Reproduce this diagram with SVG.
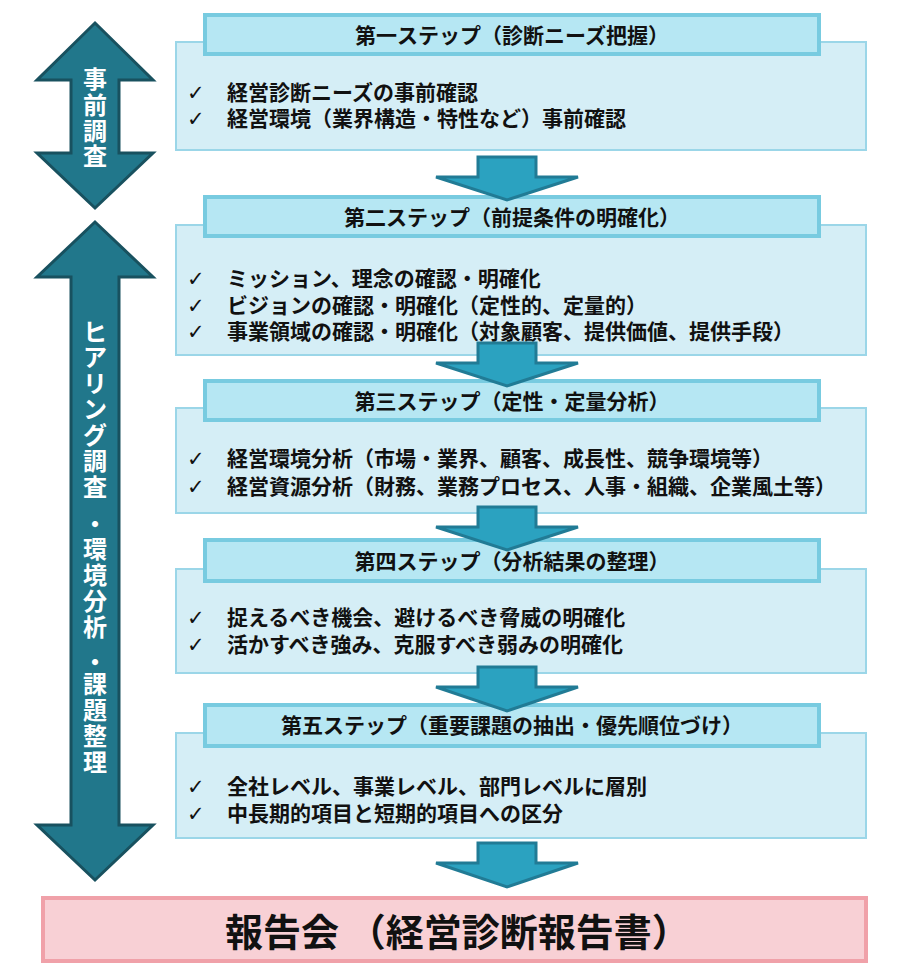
<svg xmlns="http://www.w3.org/2000/svg" width="900" height="970" viewBox="0 0 900 970">
<style>
text{font-family:"Noto Sans CJK JP","Noto Sans CJK SC",sans-serif;font-weight:bold;}
.content{fill:#d5eef6;stroke:#9bd6e8;stroke-width:2;}
.header{fill:#b6e7f3;stroke:#78cbe0;stroke-width:4;}
.htxt{font-size:21px;fill:#111;text-anchor:middle;}
.item{font-size:21px;fill:#111;}
.chk{font-size:21px;font-weight:normal;font-family:"DejaVu Sans",sans-serif;}
.flow{fill:#2ba2c0;stroke:#217b95;stroke-width:3;stroke-linejoin:miter;}
.phase{fill:#21778b;stroke:#18515f;stroke-width:3;}
.ptxt{font-size:24px;fill:#fff;text-anchor:middle;}
.report{fill:#f8d0d5;stroke:#f0a1a9;stroke-width:4;}
</style>
<rect width="900" height="970" fill="#fff"/>

<g id="phase-pre">
<polygon class="phase" points="95,23 153,80 119,80 119,153 153,153 95,208 37,153 71,153 71,80 37,80"/>
<text class="ptxt" x="95 95 95 95" y="88 114 140 165">事前調査</text>
</g>

<g id="phase-hearing">
<polygon class="phase" points="95,222 153,277 119,277 119,825 153,825 95,880 37,825 71,825 71,277 37,277"/>
<text class="ptxt" x="95 95 95 95 95 95 95 95 95 95 95 95 95 95 95 95 95" y="341 366 392 418 444 470 496 533 558 584 610 636 671 693 719 745 771">ヒアリング調査・環境分析・課題整理</text>
</g>

<g id="step1">
<rect class="content" x="176" y="42" width="690" height="108"/>
<rect class="header" x="205" y="15" width="614" height="39"/>
<text class="htxt" x="512" y="43">第一ステップ（診断ニーズ把握）</text>
<text class="item" y="100"><tspan class="chk" x="187">✓</tspan><tspan x="227">経営診断ニーズの事前確認</tspan></text>
<text class="item" y="126"><tspan class="chk" x="187">✓</tspan><tspan x="227">経営環境（業界構造・特性など）事前確認</tspan></text>
</g>

<g id="step2">
<rect class="content" x="176" y="225" width="690" height="130"/>
<rect class="header" x="205" y="197" width="614" height="39"/>
<text class="htxt" x="512" y="225">第二ステップ（前提条件の明確化）</text>
<text class="item" y="286"><tspan class="chk" x="187">✓</tspan><tspan x="227">ミッション、理念の確認・明確化</tspan></text>
<text class="item" y="313"><tspan class="chk" x="187">✓</tspan><tspan x="227">ビジョンの確認・明確化（定性的、定量的）</tspan></text>
<text class="item" y="339"><tspan class="chk" x="187">✓</tspan><tspan x="227">事業領域の確認・明確化（対象顧客、提供価値、提供手段）</tspan></text>
</g>

<g id="step3">
<rect class="content" x="176" y="408" width="690" height="105"/>
<rect class="header" x="205" y="381" width="614" height="39"/>
<text class="htxt" x="512" y="409">第三ステップ（定性・定量分析）</text>
<text class="item" y="466"><tspan class="chk" x="187">✓</tspan><tspan x="227">経営環境分析（市場・業界、顧客、成長性、競争環境等）</tspan></text>
<text class="item" y="494"><tspan class="chk" x="187">✓</tspan><tspan x="227">経営資源分析（財務、業務プロセス、人事・組織、企業風土等）</tspan></text>
</g>

<g id="step4">
<rect class="content" x="176" y="569" width="690" height="104"/>
<rect class="header" x="205" y="540" width="614" height="41"/>
<text class="htxt" x="512" y="569">第四ステップ（分析結果の整理）</text>
<text class="item" y="625"><tspan class="chk" x="187">✓</tspan><tspan x="227">捉えるべき機会、避けるべき脅威の明確化</tspan></text>
<text class="item" y="652"><tspan class="chk" x="187">✓</tspan><tspan x="227">活かすべき強み、克服すべき弱みの明確化</tspan></text>
</g>

<g id="step5">
<rect class="content" x="176" y="733" width="690" height="105"/>
<rect class="header" x="205" y="705" width="614" height="41"/>
<text class="htxt" x="512" y="733">第五ステップ（重要課題の抽出・優先順位づけ）</text>
<text class="item" y="794"><tspan class="chk" x="187">✓</tspan><tspan x="227">全社レベル、事業レベル、部門レベルに層別</tspan></text>
<text class="item" y="821"><tspan class="chk" x="187">✓</tspan><tspan x="227">中長期的項目と短期的項目への区分</tspan></text>
</g>

<g id="report">
<rect class="report" x="43" y="898" width="823" height="63"/>
<text x="225" y="946" style="font-size:38px;fill:#111;">報告会 （経営診断報告書）</text>
</g>

<g id="connectors">
<polygon class="flow" points="478,157 536,157 536,177 578,177 507,200 436,177 478,177"/>
<polygon class="flow" points="478,343 536,343 536,363 578,363 507,386 436,363 478,363"/>
<polygon class="flow" points="478,507 536,507 536,527 578,527 507,550 436,527 478,527"/>
<polygon class="flow" points="478,667 536,667 536,687 578,687 507,711 436,687 478,687"/>
<polygon class="flow" points="478,843 536,843 536,863 578,863 507,887 436,863 478,863"/>
</g>
</svg>
